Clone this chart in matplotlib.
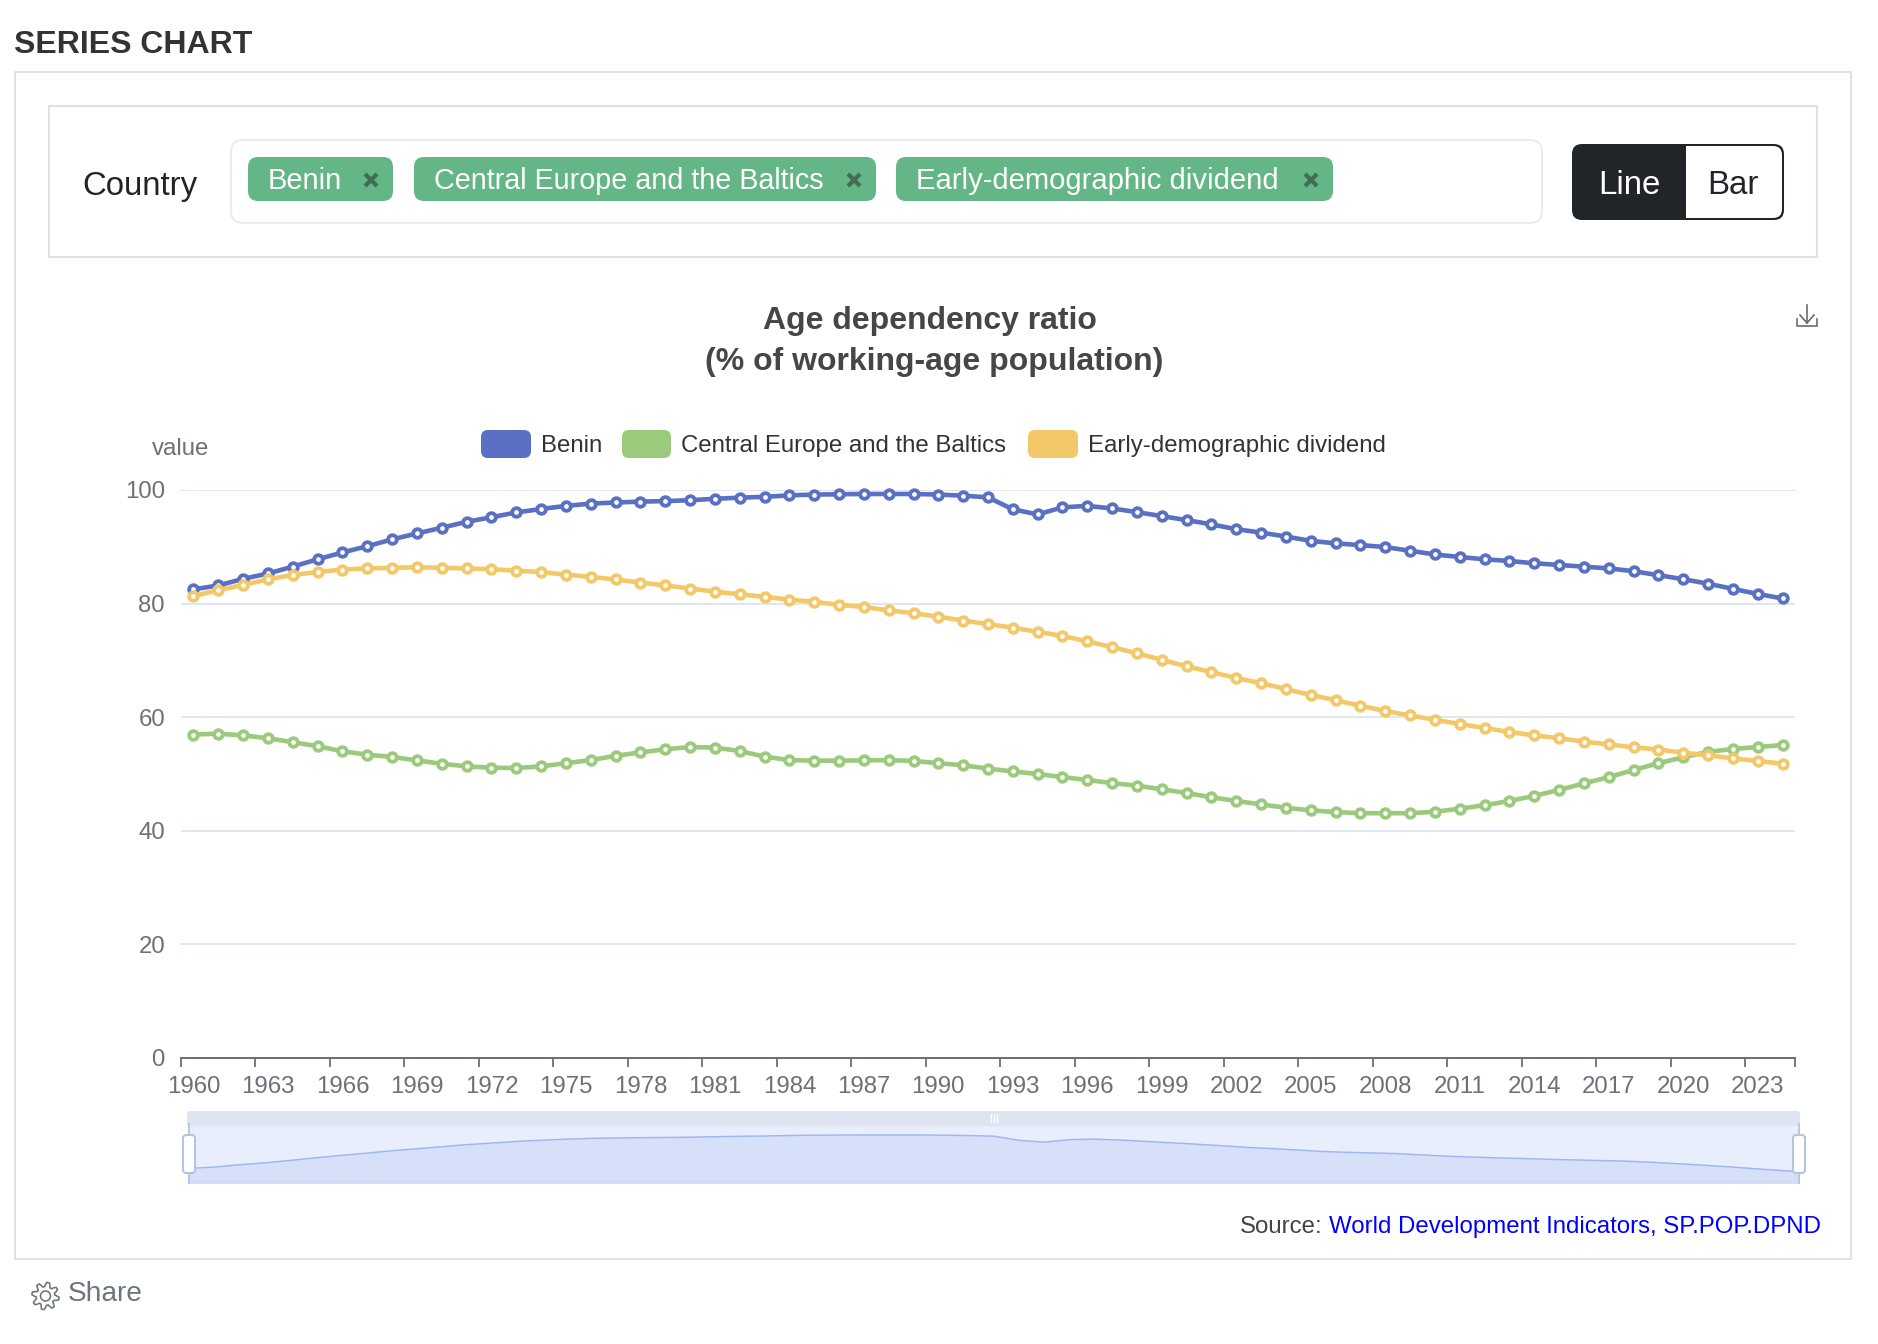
import numpy as np
import matplotlib
matplotlib.use("Agg")
import matplotlib.pyplot as plt
from matplotlib.patches import FancyBboxPatch, Rectangle, Polygon, Circle

W, H = 1878, 1344
DPI = 100

years = list(range(1960, 2025))

benin = [82.5, 83.2, 84.35, 85.3, 86.5, 87.8, 89.0, 90.1, 91.3, 92.35, 93.35, 94.4, 95.2,
         96.05, 96.65, 97.2, 97.6, 97.8, 97.95, 98.05, 98.2, 98.45, 98.65, 98.8, 99.05,
         99.2, 99.25, 99.3, 99.3, 99.3, 99.2, 99.0, 98.7, 96.6, 95.7, 96.95, 97.2, 96.75,
         96.1, 95.4, 94.7, 93.95, 93.1, 92.5, 91.8, 91.05, 90.6, 90.3, 89.95, 89.3, 88.65,
         88.2, 87.8, 87.5, 87.1, 86.8, 86.5, 86.2, 85.7, 85.0, 84.3, 83.5, 82.6, 81.7, 80.9]

central_europe = [56.95, 57.1, 56.8, 56.3, 55.6, 54.9, 54.0, 53.4, 53.0, 52.4, 51.8, 51.35,
                  51.1, 51.05, 51.35, 51.9, 52.45, 53.2, 53.8, 54.35, 54.75, 54.65, 54.05,
                  53.05, 52.45, 52.35, 52.35, 52.4, 52.45, 52.3, 51.9, 51.55, 50.95, 50.45,
                  50.0, 49.45, 48.95, 48.4, 47.95, 47.3, 46.65, 45.9, 45.25, 44.65, 44.05,
                  43.6, 43.3, 43.1, 43.1, 43.1, 43.35, 43.9, 44.5, 45.25, 46.15, 47.2, 48.35,
                  49.45, 50.7, 51.9, 52.95, 53.9, 54.4, 54.75, 55.1]

early_dividend = [81.35, 82.35, 83.3, 84.25, 85.05, 85.55, 86.0, 86.2, 86.3, 86.4, 86.3, 86.2,
                  86.05, 85.8, 85.55, 85.1, 84.7, 84.25, 83.7, 83.2, 82.65, 82.1, 81.65, 81.2,
                  80.7, 80.3, 79.8, 79.4, 78.8, 78.3, 77.7, 77.0, 76.4, 75.75, 75.05, 74.3,
                  73.35, 72.35, 71.25, 70.1, 68.95, 67.95, 66.9, 66.0, 64.95, 63.9, 63.0, 62.0,
                  61.1, 60.3, 59.55, 58.8, 58.1, 57.4, 56.8, 56.3, 55.7, 55.2, 54.7, 54.3, 53.75,
                  53.3, 52.75, 52.3, 51.8]

series_names = ["Benin", "Central Europe and the Baltics", "Early-demographic dividend"]
series_colors = ["#5a70c3", "#9bca7d", "#f3c868"]
y_ticks = [0, 20, 40, 60, 80, 100]

plt.rcParams["font.family"] = ["Liberation Sans", "DejaVu Sans"]


def pt(px):
    # sizes below are measured in image pixels
    return px * 72 / DPI


def rbox(ax, x0, y0, x1, y1, r, fc="none", ec="none", lw=0, z=2):
    ax.add_patch(FancyBboxPatch((x0, y0), x1 - x0, y1 - y0,
                                boxstyle=f"round,pad=0,rounding_size={r}",
                                fc=fc, ec=ec, lw=pt(lw), zorder=z))


def ax_rect(x0, y0, x1, y1):
    return [x0 / W, 1 - y1 / H, (x1 - x0) / W, (y1 - y0) / H]


fig = plt.figure(figsize=(W / DPI, H / DPI), dpi=DPI, facecolor="white")

# page furniture, drawn in pixel coordinates
ui = fig.add_axes([0, 0, 1, 1])
ui.set_xlim(0, W)
ui.set_ylim(H, 0)
ui.axis("off")

ui.text(14, 45, "SERIES CHART", fontsize=pt(32), fontweight="bold", color="#333333", va="center")
ui.add_patch(Rectangle((15, 72), 1836, 1187, fc="none", ec="#dee2e6", lw=pt(2)))
ui.add_patch(Rectangle((49, 106), 1768, 151, fc="none", ec="#dee2e6", lw=pt(2)))

ui.text(82, 186, "Country", fontsize=pt(33), color="#212529", va="center")
rbox(ui, 231, 140, 1542, 223, 12, fc="white", ec="#e9ecef", lw=2)

tags = [(248, 393), (414, 876), (896, 1333)]
tag_sizes = [29, 28.7, 29.2]
for (x0, x1), name, size in zip(tags, series_names, tag_sizes):
    rbox(ui, x0, 157, x1, 201, 10, fc="#64b687")
    ui.text(x0 + 20, 181, name, fontsize=pt(size), color="white", va="center")
    ui.plot([x1 - 28, x1 - 16], [174, 186], color="#3f6e54", lw=pt(4.2), solid_capstyle="butt", zorder=3)
    ui.plot([x1 - 28, x1 - 16], [186, 174], color="#3f6e54", lw=pt(4.2), solid_capstyle="butt", zorder=3)

ui.add_patch(Polygon([(1491, 175), (1511, 175), (1501, 185)], fc="#999999", ec="none"))

# Line / Bar toggle
rbox(ui, 1572, 144, 1784, 220, 10, fc="#212529")
rbox(ui, 1686, 146, 1782, 218, 9, fc="white", z=3)
ui.add_patch(Rectangle((1686, 146), 30, 72, fc="white", ec="none", zorder=3))
ui.text(1629, 185, "Line", fontsize=pt(33), color="white", ha="center", va="center", zorder=4)
ui.text(1733, 185, "Bar", fontsize=pt(33), color="#212529", ha="center", va="center", zorder=4)

ui.text(930, 321, "Age dependency ratio", fontsize=pt(32), fontweight="bold", color="#464646",
        ha="center", va="center")
ui.text(934, 362, "(% of working-age population)", fontsize=pt(32), fontweight="bold", color="#464646",
        ha="center", va="center")

# download icon
ui.plot([1807, 1807], [305, 323], color="#666666", lw=pt(1.6))
ui.plot([1800, 1807, 1814], [315, 323, 315], color="#666666", lw=pt(1.6))
ui.plot([1797, 1797, 1817, 1817], [319, 326, 326, 319], color="#666666", lw=pt(1.6))

ui.text(181, 449, "value", fontsize=pt(24), color="#6e7079", ha="center", va="center")

# legend
legend_x = [(481, 531), (622, 671), (1028, 1078)]
for (x0, x1), name, col in zip(legend_x, series_names, series_colors):
    rbox(ui, x0, 430, x1, 458, 7, fc=col)
    ui.text(x1 + 10, 446, name, fontsize=pt(24), color="#333333", va="center")

# main chart
ax = fig.add_axes(ax_rect(181, 490, 1795, 1058))
ax.patch.set_alpha(0)
x = np.arange(len(years))
for vals, name, col in zip([benin, central_europe, early_dividend], series_names, series_colors):
    ax.plot(x, vals, color=col, lw=pt(4.6), marker="o", ms=pt(8.6), mfc="white", mec=col,
            mew=pt(3.8), label=name, clip_on=False, zorder=3)

ax.set_xlim(-0.5, len(years) - 0.5)
ax.set_ylim(0, 100)
ax.set_yticks(y_ticks)
ax.set_xticks(np.append(np.arange(-0.5, len(years), 3), len(years) - 0.5))
ax.set_xticklabels([])
ax.set_xticks(x[::3], [str(y) for y in years[::3]], minor=True)
ax.grid(axis="y", color="#e0e6f1", lw=pt(2))
ax.set_axisbelow(True)
for side in ["top", "left", "right"]:
    ax.spines[side].set_visible(False)
ax.spines["bottom"].set_color("#6e7079")
ax.spines["bottom"].set_linewidth(pt(2))
ax.tick_params(axis="y", length=0, pad=pt(16), labelsize=pt(24), labelcolor="#6e7079")
ax.tick_params(axis="x", which="major", length=pt(9), width=pt(1.8), color="#6e7079")
ax.tick_params(axis="x", which="minor", length=0, pad=pt(18), labelsize=pt(24), labelcolor="#6e7079")

# data zoom slider
ui.add_patch(Rectangle((189, 1126), 1610, 57, fc="#e8eefc", ec="none"))
rbox(ui, 187, 1111, 1800, 1126, 3, fc="#dfe4f1")
for gx in [991, 994, 997]:
    ui.plot([gx, gx], [1114, 1122], color="white", lw=pt(1.4), zorder=3)

zoom_ax = fig.add_axes(ax_rect(189, 1126, 1799, 1183))
zoom_ax.patch.set_alpha(0)
zoom_ax.fill_between(x, benin, 70, color="#d6e0f9", lw=0)
zoom_ax.plot(x, benin, color="#9fb6f0", lw=pt(1.5))
zoom_ax.set_xlim(0, len(years) - 1)
zoom_ax.set_ylim(75.2, 103.8)
zoom_ax.axis("off")

# slider handles sit above the preview
top = fig.add_axes([0, 0, 1, 1])
top.set_xlim(0, W)
top.set_ylim(H, 0)
top.axis("off")
top.add_patch(Rectangle((189, 1181), 1610, 2, fc="#d3dcf2", ec="none"))
for hx in [189, 1799]:
    top.plot([hx, hx], [1124, 1183], color="#bcc6de", lw=pt(2))
    rbox(top, hx - 6, 1135, hx + 6, 1173, 3, fc="white", ec="#b7c2dc", lw=2)

ui.text(1240, 1227, "Source:", fontsize=pt(24), color="#444444", va="center")
ui.text(1821, 1227, "World Development Indicators, SP.POP.DPND", fontsize=pt(24), color="#0000ff",
        ha="right", va="center")

# gear icon next to Share
ang = np.linspace(0, 2 * np.pi, 65)
rad = 11.5 + 2.2 * np.tanh(3 * np.sin(8 * ang))
ui.add_patch(Polygon(np.column_stack([45.5 + rad * np.cos(ang), 1296 + rad * np.sin(ang)]),
                     fc="none", ec="#6c757d", lw=pt(1.6)))
ui.add_patch(Circle((45.5, 1296), 5, fc="none", ec="#6c757d", lw=pt(1.6)))
ui.text(68, 1294, "Share", fontsize=pt(28), color="#6c757d", va="center")

fig.savefig("out.png", dpi=DPI)
